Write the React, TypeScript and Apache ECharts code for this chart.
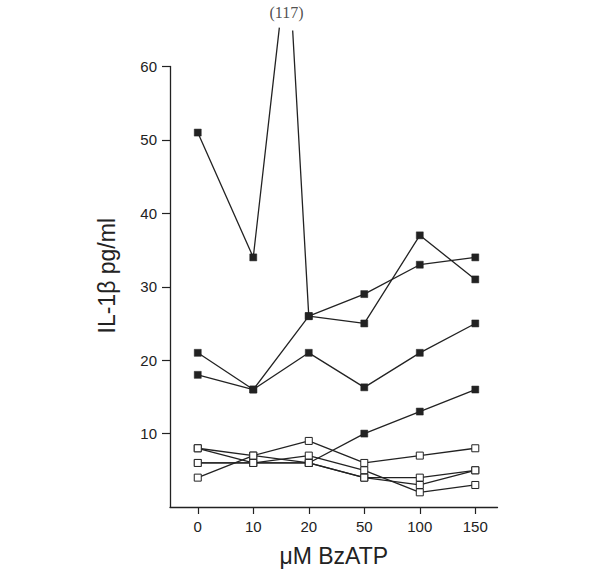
import React, { useEffect, useRef } from "react";
import * as echarts from "echarts";

const categories = ["0", "10", "20", "50", "100", "150"];
const yTicks = [10, 20, 30, 40, 50, 60];

// stimulated (filled squares)
const highA = [51, 34];            // 0, 10 ; then off-scale peak (117) ; then from 20 on
const highAAfter = [26, 29, 33, 34]; // 20, 50, 100, 150
const peakLabel = "(117)";
// truncated arms of the off-scale value (x in category index, y in pg/ml)
const peakArmUp = [1.47, 65.3];
const peakArmDown = [1.71, 64.9];
const peakLabelPos = [1.6, 67.3];

const highB = [21, 16, 26, 25, 37, 31];
const highC = [18, 16, 21, 16.3, 21, 25];
const highD = [6, 6, 6, 10, 13, 16];

// unstimulated (open squares)
const lowA = [8, 7, 9, 6, 7, 8];
const lowB = [8, 6, 7, 5, 2, 3];
const lowC = [6, 6, 6, 4, 4, 5];
const lowD = [4, 7, 6, 4, 3, 5];

const INK = "#222";

function pairs(vals: number[], start = 0) {
  return vals.map((v, i) => [i + start, v]);
}

export default function App() {
  const ref = useRef<HTMLDivElement>(null);
  useEffect(() => {
    if (!ref.current) return;
    const chart = echarts.init(ref.current, undefined, { renderer: "svg" });
    const lineBase = {
      type: "line" as const,
      symbol: "rect",
      symbolSize: 7,
      lineStyle: { color: INK, width: 1.3 },
      clip: false,
      z: 2,
    };
    const filled = { ...lineBase, itemStyle: { color: INK, borderColor: INK, borderWidth: 0.5 } };
    const open = {
      ...lineBase,
      z: 3,
      itemStyle: { color: "#fff", borderColor: INK, borderWidth: 1 },
    };
    chart.setOption({
      animation: false,
      backgroundColor: "#fff",
      grid: {
        left: 170,
        top: 66.5,
        right: 102.5,
        bottom: 62,
        containLabel: false,
        outerBoundsMode: "none",
      },
      xAxis: {
        type: "value",
        min: -0.5,
        max: 5.4,
        splitLine: { show: false },
        axisLine: { show: true, onZero: false, lineStyle: { color: INK, width: 1.3 } },
        axisTick: {
          show: true,
          length: 7,
          customValues: categories.map((_, i) => i),
          lineStyle: { color: INK, width: 1.2 },
        },
        axisLabel: {
          customValues: categories.map((_, i) => i),
          formatter: (v: number) => categories[Math.round(v)] ?? "",
          color: INK,
          fontFamily: "Liberation Sans, Arial, sans-serif",
          fontSize: 15,
          margin: 12,
        },
        name: "\u03bcM BzATP",
        nameLocation: "middle",
        nameGap: 38,
        nameTextStyle: {
          color: INK,
          fontFamily: "Liberation Sans, Arial, sans-serif",
          fontSize: 23,
          lineHeight: 22,
        },
      },
      yAxis: {
        type: "value",
        min: 0,
        max: 60,
        interval: 10,
        splitLine: { show: false },
        axisLine: { show: true, onZero: false, lineStyle: { color: INK, width: 1.3 } },
        axisTick: {
          show: true,
          length: 8,
          customValues: yTicks,
          lineStyle: { color: INK, width: 1.2 },
        },
        axisLabel: {
          customValues: yTicks,
          color: INK,
          fontFamily: "Liberation Sans, Arial, sans-serif",
          fontSize: 15,
          margin: 13,
        },
        name: "IL-1\u03b2 pg/ml",
        nameLocation: "middle",
        nameGap: 52,
        nameTextStyle: {
          color: INK,
          fontFamily: "Liberation Sans, Arial, sans-serif",
          fontSize: 23,
          padding: [0, 0, 0, 22],
        },
      },
      series: [
        {
          ...filled,
          data: [...pairs(highA), { value: peakArmUp, symbol: "none" }],
        },
        {
          ...filled,
          data: [{ value: peakArmDown, symbol: "none" }, ...pairs(highAAfter, 2)],
        },
        { ...filled, data: pairs(highB) },
        { ...filled, data: pairs(highC) },
        { ...filled, data: pairs(highD) },
        { ...open, data: pairs(lowA) },
        { ...open, data: pairs(lowB) },
        { ...open, data: pairs(lowC) },
        { ...open, data: pairs(lowD) },
        {
          type: "scatter",
          clip: false,
          symbol: "rect",
          symbolSize: 1,
          itemStyle: { color: "rgba(0,0,0,0)" },
          data: [peakLabelPos],
          label: {
            show: true,
            position: "inside",
            formatter: peakLabel,
            color: INK,
            fontFamily: "Liberation Serif, Times New Roman, serif",
            fontSize: 16,
          },
        },
      ],
    });
    return () => chart.dispose();
  }, []);
  return (
    <div
      ref={ref}
      style={{ position: "fixed", left: 0, top: 0, width: 600, height: 569, background: "#fff" }}
    />
  );
}
